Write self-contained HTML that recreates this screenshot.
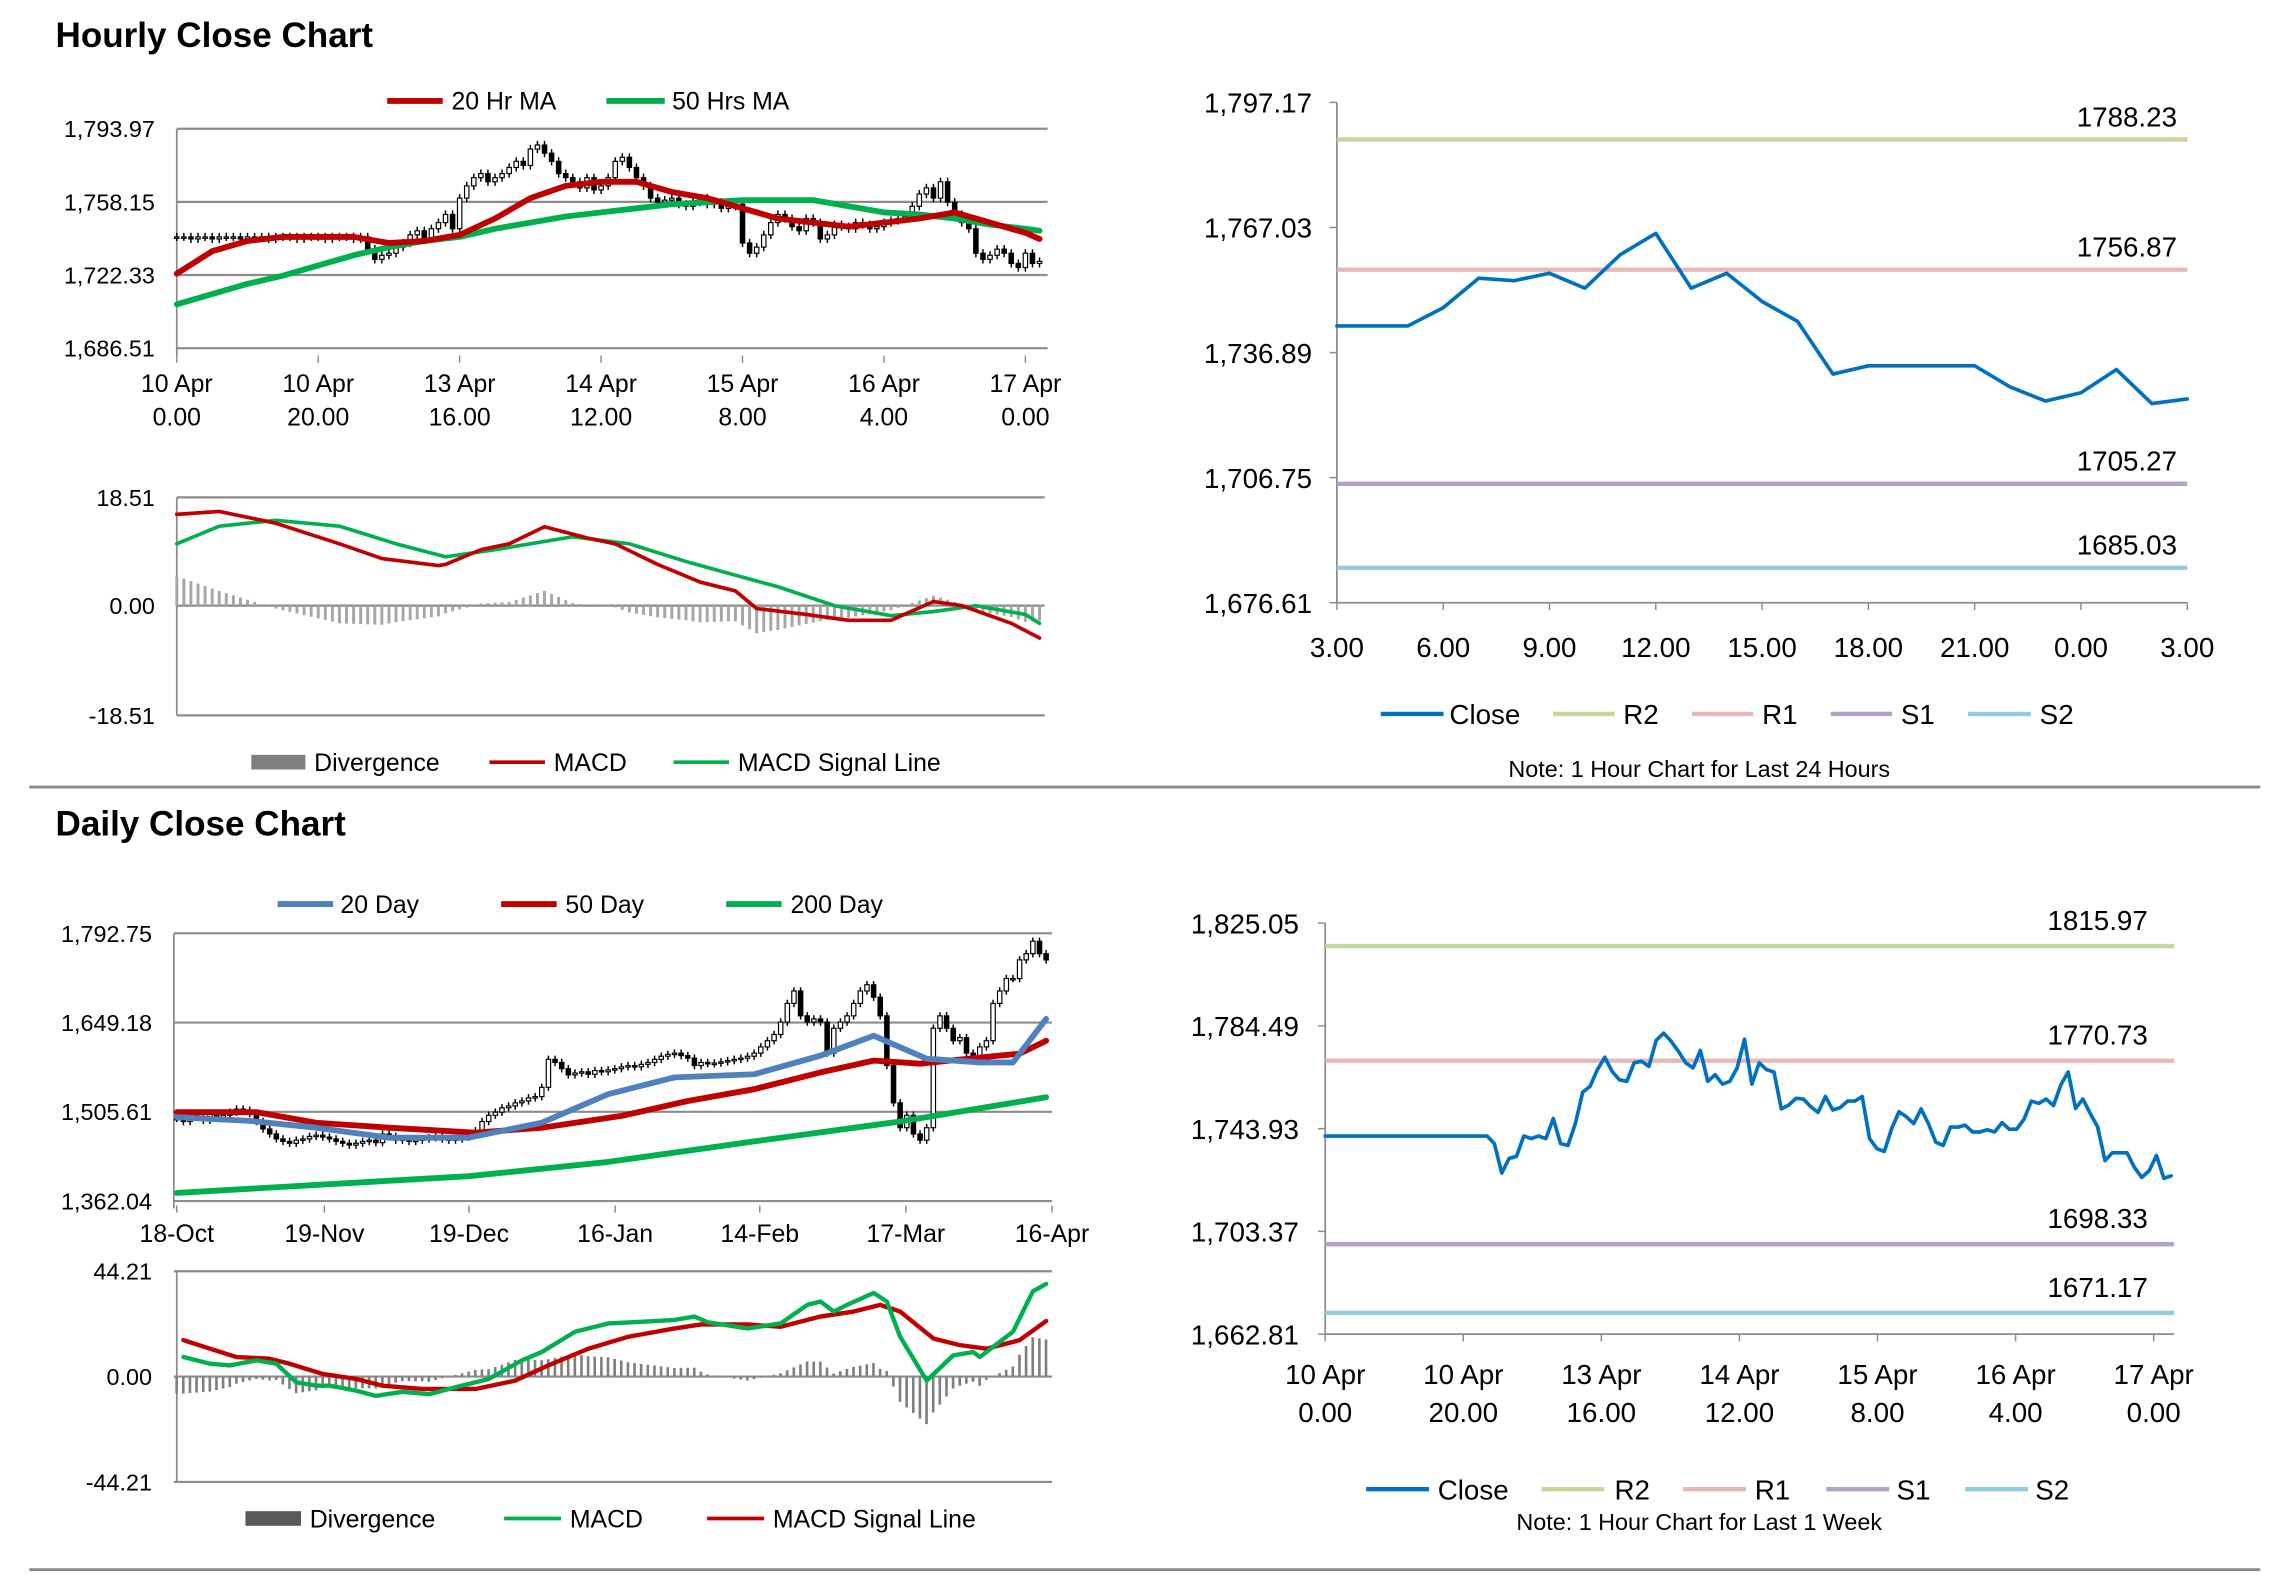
<!DOCTYPE html>
<html><head><meta charset="utf-8"><style>
html,body{margin:0;padding:0;background:#fff;}
svg{display:block;font-family:"Liberation Sans",Arial,sans-serif;}
</style></head><body>
<svg id="root" xmlns="http://www.w3.org/2000/svg" width="2291" height="1577" viewBox="0 0 1568 1078" preserveAspectRatio="none">
<rect x="0" y="0" width="1568" height="1078" fill="#fff"/>
<text x="38" y="32" font-size="24" font-weight="bold">Hourly Close Chart</text>
<text x="38" y="571" font-size="24" font-weight="bold">Daily Close Chart</text>
<line x1="20" y1="538" x2="1547" y2="538" stroke="#888" stroke-width="2"/>
<line x1="20" y1="1073" x2="1547" y2="1073" stroke="#888" stroke-width="2"/>

<g font-size="17">
<line x1="265" y1="69" x2="303" y2="69" stroke="#c00000" stroke-width="4"/>
<text x="309" y="75">20 Hr MA</text>
<line x1="415" y1="69" x2="455" y2="69" stroke="#00b050" stroke-width="4"/>
<text x="460" y="75">50 Hrs MA</text>
</g>
<g font-size="17">
<rect x="172" y="516" width="37" height="10" fill="#7f7f7f"/>
<text x="215" y="527">Divergence</text>
<line x1="335" y1="521" x2="373" y2="521" stroke="#c00000" stroke-width="2.5"/>
<text x="379" y="527">MACD</text>
<line x1="461" y1="521" x2="499" y2="521" stroke="#00b050" stroke-width="2.5"/>
<text x="505" y="527">MACD Signal Line</text>
</g>
<g font-size="19">
<line x1="945" y1="488" x2="988" y2="488" stroke="#0070c0" stroke-width="3"/>
<text x="992" y="495">Close</text>
<line x1="1063" y1="488" x2="1105" y2="488" stroke="#c3d69b" stroke-width="3"/>
<text x="1111" y="495">R2</text>
<line x1="1158" y1="488" x2="1200" y2="488" stroke="#e6b9b8" stroke-width="3"/>
<text x="1206" y="495">R1</text>
<line x1="1253" y1="488" x2="1295" y2="488" stroke="#b3a2c7" stroke-width="3"/>
<text x="1301" y="495">S1</text>
<line x1="1347" y1="488" x2="1390" y2="488" stroke="#93cddd" stroke-width="3"/>
<text x="1396" y="495">S2</text>
</g>
<text x="1163" y="531" font-size="16" text-anchor="middle">Note: 1 Hour Chart for Last 24 Hours</text>

<g font-size="17">
<line x1="190" y1="618" x2="228" y2="618" stroke="#4f81bd" stroke-width="4"/>
<text x="233" y="624">20 Day</text>
<line x1="343" y1="618" x2="381" y2="618" stroke="#c00000" stroke-width="4"/>
<text x="387" y="624">50 Day</text>
<line x1="497" y1="618" x2="535" y2="618" stroke="#00b050" stroke-width="4"/>
<text x="541" y="624">200 Day</text>
</g>
<g font-size="17">
<rect x="168" y="1033" width="38" height="10" fill="#595959"/>
<text x="212" y="1044">Divergence</text>
<line x1="345" y1="1038" x2="384" y2="1038" stroke="#00b050" stroke-width="2.5"/>
<text x="390" y="1044">MACD</text>
<line x1="484" y1="1038" x2="523" y2="1038" stroke="#c00000" stroke-width="2.5"/>
<text x="529" y="1044">MACD Signal Line</text>
</g>
<g font-size="19">
<line x1="935" y1="1018" x2="978" y2="1018" stroke="#0070c0" stroke-width="3"/>
<text x="984" y="1025">Close</text>
<line x1="1055" y1="1018" x2="1098" y2="1018" stroke="#c3d69b" stroke-width="3"/>
<text x="1105" y="1025">R2</text>
<line x1="1152" y1="1018" x2="1195" y2="1018" stroke="#e6b9b8" stroke-width="3"/>
<text x="1201" y="1025">R1</text>
<line x1="1250" y1="1018" x2="1293" y2="1018" stroke="#b3a2c7" stroke-width="3"/>
<text x="1298" y="1025">S1</text>
<line x1="1345" y1="1018" x2="1388" y2="1018" stroke="#93cddd" stroke-width="3"/>
<text x="1393" y="1025">S2</text>
</g>
<text x="1163" y="1046" font-size="16" text-anchor="middle">Note: 1 Hour Chart for Last 1 Week</text>
</svg>
<script>
const hourlyCloses = [1741,1741,1740,1741,1741,1740,1741,1741,1741,1740,1741,1741,1741,1740,1741,1741,1741,1740,1741,1741,1741,1740,1741,1741,1741,1740,1741,
1735,1730,1732,1733,1736,1738,1742,1744,1740,1745,
1748,1752,1745,1760,1766,1770,1772,1768,1770,
1772,1775,1778,1776,1784,1786,1782,1778,1772,1770,
1768,1765,1770,1764,1766,1770,1778,1780,1775,1770,
1766,1760,1758,1759,1760,1757,1756,1758,1760,1757,1758,1755,1756,1757,
1738,1733,1736,1742,1748,1752,1750,1746,1744,1750,
1748,1740,1742,1747,1746,1745,1748,1747,1745,1746,1748,1749,1750,1751,1756,1762,
1765,1760,1768,1758,1752,1748,1745,
1733,1730,1732,1735,1733,1728,1726,1733,1728,1729];
const hourlyMaBars = [0,5,10,15,20,25,30,35,40,45,50,55,60,65,70,75,80,85,90,95,100,105,110,115,120,122];
const hourlyMa20 = [1723,1734,1739,1741,1741,1741,1738,1739,1742,1750,1760,1766,1768,1768,1763,1760,1755,1750,1748,1746,1748,1750,1753,1748,1743,1740];
const hourlyMa50 = [1708,1713,1718,1722,1727,1732,1736,1739,1741,1745,1748,1751,1753,1755,1757,1758,1759,1759,1759,1756,1753,1752,1750,1747,1745,1744];
const hourlyYTicks = ["1,793.97","1,758.15","1,722.33","1,686.51"];
const hourlyXTop = ["10 Apr","10 Apr","13 Apr","14 Apr","15 Apr","16 Apr","17 Apr"];
const hourlyXBot = ["0.00","20.00","16.00","12.00","8.00","4.00","0.00"];
const hMacdBars = [0,6,14,23,29,37,38,43,47,52,58,62,68,74,79,82,89,95,101,107,111,118,122];
const hMacd = [15.5,16,14,10.5,8,6.8,7,9.5,10.5,13.4,11.5,10.5,7,4,2.5,-0.5,-1.5,-2.5,-2.5,0.7,0,-3,-5.5];
const hSigBars = [0,6,14,23,31,38,45,56,64,72,78,85,93,101,107,113,120,122];
const hSig = [10.5,13.5,14.5,13.5,10.5,8.3,9.5,11.7,10.5,7.5,5.5,3.2,0,-1.7,-1,0,-1.5,-3];
const hMacdTicks = ["18.51","0.00","-18.51"];
const p24Close = [1743.3,1743.3,1743.3,1747.7,1754.8,1754.2,1756.0,1752.4,1760.5,1765.6,1752.4,1756.0,1749.2,1744.4,1731.7,1733.7,1733.7,1733.7,1733.7,1728.6,1725.2,1727.2,1732.8,1724.6,1725.7];
const p24Levels = [1788.23,1756.87,1705.27,1685.03];
const p24LevelNames = ["r2","r1","s1","s2"];
const p24YTicks = ["1,797.17","1,767.03","1,736.89","1,706.75","1,676.61"];
const p24XTicks = ["3.00","6.00","9.00","12.00","15.00","18.00","21.00","0.00","3.00"];
const dailyCloses = [1495,1490,1500,1498,1492,1502,1497,1500,1505,1510,1508,1503,
1490,1478,1470,1462,1458,1455,1460,1462,1466,1468,1465,1462,1458,1455,1452,1455,1458,1460,1456,
1470,1466,1460,1462,1458,1460,1462,1464,1465,1462,1460,1462,1465,1468,
1475,1490,1500,1505,1512,1515,1520,1523,1528,1530,1545,
1590,1585,1575,1565,1568,1570,1566,1572,1570,
1573,1575,1578,1580,1578,1582,1585,1590,1595,1598,1600,1596,1592,1580,1585,1583,1584,1586,1588,1590,1592,1595,
1600,1610,1620,1630,1650,1680,1700,1660,1650,1655,1650,
1600,1640,1650,1660,1680,1700,1710,1690,1660,
1580,1520,1480,1500,1470,1460,1480,
1640,1660,1640,1620,1625,1600,1590,1610,1620,
1680,1700,1720,1720,1750,1760,1780,1760,1750];
const d20Days = [0,11,21,32,44,55,65,75,87,97,105,113,121,126,131];
const d20 = [1497,1491,1480,1464,1464,1488,1534,1561,1566,1596,1628,1591,1585,1585,1655];
const d50Days = [0,12,21,32,45,55,67,77,87,97,105,112,121,127,131];
const d50 = [1505,1505,1488,1480,1472,1480,1499,1523,1542,1569,1588,1583,1593,1599,1620];
const d200Days = [0,21,44,65,87,109,131];
const d200 = [1375,1388,1402,1425,1458,1490,1529];
const dailyYTicks = ["1,792.75","1,649.18","1,505.61","1,362.04"];
const dailyXTicks = ["18-Oct","19-Nov","19-Dec","16-Jan","14-Feb","17-Mar","16-Apr"];
const dMacdDays = [1,5,8,12,15,18,21,23,27,30,34,38,42,47,52,55,60,65,70,75,78,80,86,91,95,97,99,101,105,107,109,113,117,120,121,126,129,131];
const dMacd = [8.2,5.4,4.7,6.8,5.4,-2.4,-3.8,-3.8,-5.9,-8.1,-6.4,-7.4,-4.5,-1,6.8,10.3,18.8,22.3,23,23.8,25.2,22.8,20.2,22.3,30.1,31.5,27.3,30.1,35.1,31.5,16.7,-1.7,8.9,10.3,8.2,18.8,35.8,38.9];
const dSigDays = [1,5,9,14,17,22,27,31,37,45,51,56,62,68,75,79,86,91,97,102,106,109,114,118,122,127,131];
const dSig = [15.3,11.7,8.2,7.5,5.4,1.1,-1,-3.8,-5.2,-5.2,-1.7,4.7,11.7,16.7,20.2,21.9,21.9,20.9,25.2,27.3,30.1,27.3,16,13.2,11.7,15.3,23.3];
const dMacdTicks = ["44.21","0.00","-44.21"];
const wkClose = [1741,1741,1741,1741,1741,1741,1741,1741,1741,1741,1741,1741,1741,1741,1741,1741,1741,1741,1741,1741,1741,1741,1741,
1738.0,1726.4,1732.2,1733.0,1741.0,1740.0,1741.0,1740.0,1747.9,1738.0,1737.3,1745.9,1758.3,1760.6,1767.2,1772.1,1766.5,1763.2,1762.6,1769.9,1770.5,1768.5,1778.8,1781.6,1778.5,1774.5,1769.9,1767.9,1774.8,1762.6,1765.2,1761.5,1762.6,1767.9,1779.2,1761.5,1769.9,1767.2,1766.3,1751.7,1753.2,1755.9,1755.6,1752.6,1750.3,1756.6,1751.3,1752.2,1754.8,1754.8,1756.6,1740.0,1736.0,1734.9,1743.9,1750.6,1748.6,1745.9,1751.7,1745.9,1738.6,1737.3,1744.6,1744.5,1745.3,1742.6,1742.6,1743.5,1742.6,1746.3,1743.7,1743.7,1747.7,1754.8,1753.9,1755.6,1753.0,1761.2,1766.3,1751.9,1755.6,1749.9,1744.6,1731.3,1734.4,1734.4,1734.4,1728.6,1724.7,1727.3,1733.3,1724.3,1725.3];
const wkLevels = [1815.97,1770.73,1698.33,1671.17];
const wkLevelNames = ["r2","r1","s1","s2"];
const wkYTicks = ["1,825.05","1,784.49","1,743.93","1,703.37","1,662.81"];
const wkXTop = ["10 Apr","10 Apr","13 Apr","14 Apr","15 Apr","16 Apr","17 Apr"];
const wkXBot = ["0.00","20.00","16.00","12.00","8.00","4.00","0.00"];
const levelColors = {r2:"#c3d69b",r1:"#e6b9b8",s1:"#b3a2c7",s2:"#93cddd"};

const NS = "http://www.w3.org/2000/svg";
const svg = document.getElementById("root");
function mk(tag, attrs, parent) {
  const e = document.createElementNS(NS, tag);
  for (const k in attrs) e.setAttribute(k, attrs[k]);
  (parent || svg).appendChild(e);
  return e;
}
function group(name) {
  const g = mk("g", {});
  
  
  return g;
}
function interp(xs, ys, x) {
  if (x <= xs[0]) return ys[0];
  for (let i = 1; i < xs.length; i++) {
    if (x <= xs[i]) { const t = (x - xs[i-1]) / (xs[i] - xs[i-1]); return ys[i-1] + t * (ys[i] - ys[i-1]); }
  }
  return ys[ys.length - 1];
}
function linePath(xs, ys, fx, fy) {
  return xs.map((x, i) => (i ? "L" : "M") + fx(x).toFixed(2) + "," + fy(ys[i]).toFixed(2)).join(" ");
}
function grid(g, x1, x2, ys, fs, labels, lx, name) {
  ys.forEach((y, i) => {
    const l = mk("line", {x1: x1, x2: x2, y1: y, y2: y, stroke: "#8c8c8c", "stroke-width": 1.5}, g);
    
    
    const t = mk("text", {x: lx, y: y + fs * 0.36, "font-size": fs, "text-anchor": "end"}, g);
    
    
    t.textContent = labels[i];
  });
}
function vaxis(g, x, y1, y2, name) {
  const l = mk("line", {x1: x, x2: x, y1: y1, y2: y2, stroke: "#8c8c8c", "stroke-width": 1.2}, g);
  
  
}
function candles(g, closes, fx, fy, w, wick, name) {
  closes.forEach((c, i) => {
    const o = i ? closes[i-1] : c;
    const hi = Math.max(o, c) + wick, lo = Math.min(o, c) - wick;
    const x = fx(i);
    const wl = mk("line", {x1: x, x2: x, y1: fy(hi), y2: fy(lo), stroke: "#000", "stroke-width": 1}, g);
    
    
    const top = fy(Math.max(o, c)), bot = fy(Math.min(o, c));
    const r = mk("rect", {x: x - w/2, y: top, width: w, height: Math.max(bot - top, 1), fill: c >= o ? "#fff" : "#000", stroke: "#000", "stroke-width": 0.8}, g);
    
    
  });
}
function series(g, d, color, width, name) {
  const p = mk("path", {d: d, fill: "none", stroke: color, "stroke-width": width, "stroke-linejoin": "round", "stroke-linecap": "round"}, g);
  
  
}
function xlabels(g, xs, y, fs, l1, l2, name) {
  xs.forEach((x, i) => {
    const t = mk("text", {x: x, y: y, "font-size": fs, "text-anchor": "middle"}, g);
    
    
    t.textContent = l1[i];
    if (l2) {
      const t2 = mk("text", {x: x, y: y + fs * 1.35, "font-size": fs, "text-anchor": "middle"}, g);
      
      
      t2.textContent = l2[i];
    }
    const tk = mk("line", {x1: x, x2: x, y1: y - fs - 8, y2: y - fs - 3, stroke: "#8c8c8c", "stroke-width": 1}, g);
    
    
  });
}

(function(){
  const g = group("hourly-candle-chart");
  const vMax = 1793.97, vMin = 1686.51, yT = 88, yB = 238;
  const fy = v => yT + (vMax - v) / (vMax - vMin) * (yB - yT);
  const fx = b => 121 + b * 4.84;
  grid(g, 121, 717, [0,1,2,3].map(i => yT + i * (yB - yT) / 3), 16, hourlyYTicks, 106, "hourly-y");
  vaxis(g, 121, yT, yB + 5, "hourly-y-axis");
  candles(g, hourlyCloses, fx, fy, 3, 2, "hourly-candle");
  series(g, linePath(hourlyMaBars, hourlyMa50, fx, fy), "#00b050", 4, "hourly-50hr-ma-line");
  series(g, linePath(hourlyMaBars, hourlyMa20, fx, fy), "#c00000", 4, "hourly-20hr-ma-line");
  xlabels(g, [0,1,2,3,4,5,6].map(i => fx(i * 20)), 268, 17, hourlyXTop, hourlyXBot, "hourly-x");
})();
(function(){
  const g = group("hourly-macd-chart");
  const y0 = 414, k = 74.5 / 18.51;
  const fy = v => y0 - v * k;
  const fx = b => 121 + b * 4.84;
  grid(g, 121, 715, [340, 414, 489], 16, hMacdTicks, 106, "hourly-macd-y");
  vaxis(g, 121, 340, 489, "hourly-macd-y-axis");
  for (let b = 0; b <= 122; b++) {
    const d = interp(hMacdBars, hMacd, b) - interp(hSigBars, hSig, b);
    const bar = mk("rect", {x: fx(b) - 1, y: Math.min(fy(d), y0), width: 2, height: Math.abs(fy(d) - y0), fill: "#a6a6a6"}, g);
    
    
  }
  series(g, linePath(hSigBars, hSig, fx, fy), "#00b050", 2.5, "hourly-macd-signal-line");
  series(g, linePath(hMacdBars, hMacd, fx, fy), "#c00000", 2.5, "hourly-macd-line");
})();
(function(){
  const g = group("pivot24-chart");
  const vMax = 1797.17, vMin = 1676.61, yT = 70, yB = 412;
  const fy = v => yT + (vMax - v) / (vMax - vMin) * (yB - yT);
  const fx = i => 915 + i * (582 / 24);
  vaxis(g, 915, yT, yB, "pivot24-y-axis");
  const ax = mk("line", {x1: 915, x2: 1497, y1: yB, y2: yB, stroke: "#8c8c8c", "stroke-width": 1.2}, g);
  
  
  p24YTicks.forEach((s, i) => {
    const y = yT + i * (yB - yT) / 4;
    const t = mk("text", {x: 898, y: y + 7, "font-size": 19, "text-anchor": "end"}, g);
    
    
    t.textContent = s;
    const tk = mk("line", {x1: 910, x2: 915, y1: y, y2: y, stroke: "#8c8c8c"}, g);
    
    
  });
  p24XTicks.forEach((s, i) => {
    const x = fx(i * 3);
    const t = mk("text", {x: x, y: 449, "font-size": 19, "text-anchor": "middle"}, g);
    
    
    t.textContent = s;
    const tk = mk("line", {x1: x, x2: x, y1: yB, y2: yB + 5, stroke: "#8c8c8c"}, g);
    
    
  });
  p24Levels.forEach((v, i) => {
    const l = mk("line", {x1: 915, x2: 1497, y1: fy(v), y2: fy(v), stroke: levelColors[p24LevelNames[i]], "stroke-width": 3}, g);
    
    
    const t = mk("text", {x: 1490, y: fy(v) - 9, "font-size": 19, "text-anchor": "end"}, g);
    
    
    t.textContent = v.toFixed(2);
  });
  series(g, linePath(p24Close.map((_, i) => i), p24Close, fx, fy), "#0070c0", 2.5, "pivot24-close-line");
})();
(function(){
  const g = group("daily-candle-chart");
  const vMax = 1792.75, vMin = 1362.04, yT = 638, yB = 821;
  const fy = v => yT + (vMax - v) / (vMax - vMin) * (yB - yT);
  const fx = d => 121 + d * (595 / 131);
  grid(g, 119, 720, [0,1,2,3].map(i => yT + i * (yB - yT) / 3), 16, dailyYTicks, 104, "daily-y");
  vaxis(g, 119, yT, yB + 5, "daily-y-axis");
  candles(g, dailyCloses, fx, fy, 3, 6, "daily-candle");
  series(g, linePath(d200Days, d200, fx, fy), "#00b050", 4, "daily-200day-line");
  series(g, linePath(d50Days, d50, fx, fy), "#c00000", 4, "daily-50day-line");
  series(g, linePath(d20Days, d20, fx, fy), "#4f81bd", 4, "daily-20day-line");
  xlabels(g, [121,222,321,421,520,620,720], 849, 17, dailyXTicks, null, "daily-x");
})();
(function(){
  const g = group("daily-macd-chart");
  const y0 = 941, k = 72 / 44.21;
  const fy = v => y0 - v * k;
  const fx = d => 121 + d * (595 / 131);
  grid(g, 119, 720, [869, 941, 1013], 16, dMacdTicks, 104, "daily-macd-y");
  vaxis(g, 121, 869, 1013, "daily-macd-y-axis");
  for (let d = 0; d <= 131; d++) {
    const v = interp(dMacdDays, dMacd, d) - interp(dSigDays, dSig, d);
    const bar = mk("rect", {x: fx(d) - 1, y: Math.min(fy(v), y0), width: 1.8, height: Math.abs(fy(v) - y0), fill: "#7f7f7f"}, g);
    
    
  }
  series(g, linePath(dSigDays, dSig, fx, fy), "#c00000", 3, "daily-macd-signal-line");
  series(g, linePath(dMacdDays, dMacd, fx, fy), "#00b050", 3, "daily-macd-line");
})();
(function(){
  const g = group("pivotweek-chart");
  const vMax = 1825.05, vMin = 1662.81, yT = 631, yB = 912;
  const fy = v => yT + (vMax - v) / (vMax - vMin) * (yB - yT);
  const n = wkClose.length;
  const fx = i => 907 + i * (579 / (n - 1));
  vaxis(g, 907, yT, yB, "pivotweek-y-axis");
  const ax = mk("line", {x1: 907, x2: 1488, y1: yB, y2: yB, stroke: "#8c8c8c", "stroke-width": 1.2}, g);
  
  
  wkYTicks.forEach((s, i) => {
    const y = yT + i * (yB - yT) / 4;
    const t = mk("text", {x: 889, y: y + 7, "font-size": 19, "text-anchor": "end"}, g);
    
    
    t.textContent = s;
    const tk = mk("line", {x1: 902, x2: 907, y1: y, y2: y, stroke: "#8c8c8c"}, g);
    
    
  });
  wkXTop.forEach((s, i) => {
    const x = 907 + i * 94.5;
    const t = mk("text", {x: x, y: 946, "font-size": 19, "text-anchor": "middle"}, g);
    
    
    t.textContent = s;
    const t2 = mk("text", {x: x, y: 972, "font-size": 19, "text-anchor": "middle"}, g);
    
    
    t2.textContent = wkXBot[i];
    const tk = mk("line", {x1: x, x2: x, y1: yB, y2: yB + 5, stroke: "#8c8c8c"}, g);
    
    
  });
  wkLevels.forEach((v, i) => {
    const l = mk("line", {x1: 907, x2: 1488, y1: fy(v), y2: fy(v), stroke: levelColors[wkLevelNames[i]], "stroke-width": 3}, g);
    
    
    const t = mk("text", {x: 1470, y: fy(v) - 11, "font-size": 19, "text-anchor": "end"}, g);
    
    
    t.textContent = v.toFixed(2);
  });
  series(g, linePath(wkClose.map((_, i) => i), wkClose, fx, fy), "#0070c0", 2.5, "pivotweek-close-line");
})();
</script>
</body></html>
